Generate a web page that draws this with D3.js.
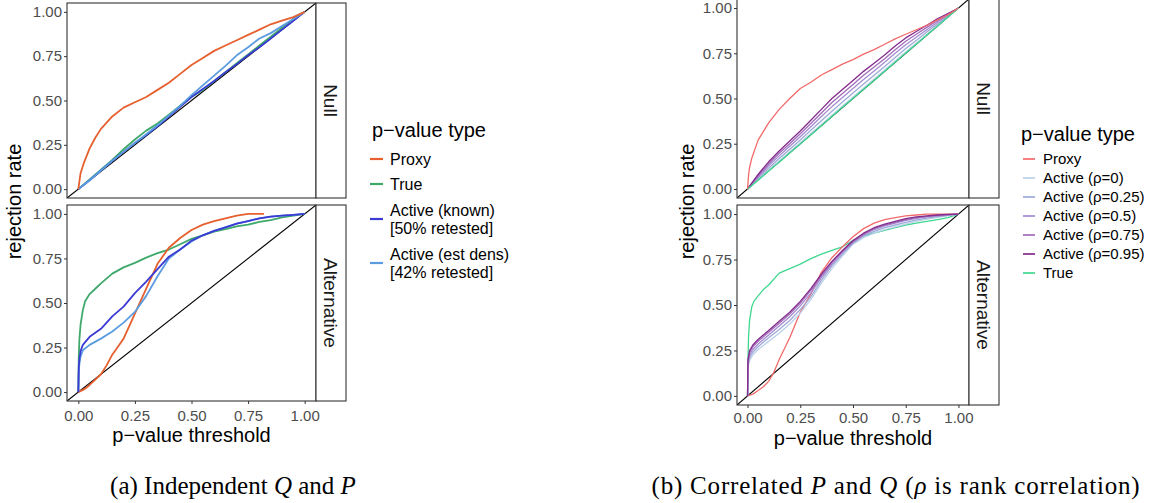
<!DOCTYPE html>
<html>
<head>
<meta charset="utf-8">
<script src="https://cdn.jsdelivr.net/npm/d3@7"></script>
<style>
  body { margin: 0; background: #fff; }
  svg { display: block; font-family: 'Liberation Sans', Arial, sans-serif; }
  .tick-label { fill: #4d4d4d; font-size: 15px; }
  .axis-title { fill: #000; font-size: 20px; }
  .strip-text { fill: #1a1a1a; font-size: 19px; }
  .legend-title { fill: #000; font-size: 20px; }
  .legend-text { fill: #000; }
  .caption { font-family: 'Liberation Serif', 'Times New Roman', serif; font-size: 25px; fill: #000; }
</style>
</head>
<body>
<svg id="chart" width="1157" height="503"></svg>
<script>
// ---- data: (a) independent Q and P ----
const xNullA = [0, 0.01, 0.025, 0.05, 0.075, 0.1, 0.15, 0.2, 0.25, 0.3, 0.35, 0.4, 0.45, 0.5, 0.55, 0.6, 0.65, 0.7, 0.75, 0.8, 0.85, 0.9, 0.95, 1.0];
const proxyNullA = [0, 0.09, 0.15, 0.23, 0.29, 0.34, 0.41, 0.46, 0.49, 0.52, 0.56, 0.60, 0.65, 0.70, 0.74, 0.78, 0.81, 0.84, 0.87, 0.90, 0.93, 0.95, 0.97, 1.0];

const xNullA2 = [0, 0.05, 0.1, 0.15, 0.2, 0.25, 0.3, 0.35, 0.4, 0.45, 0.5, 0.55, 0.6, 0.65, 0.7, 0.75, 0.8, 0.85, 0.9, 0.95, 1.0];
const trueNullA = [0, 0.055, 0.11, 0.165, 0.225, 0.28, 0.33, 0.37, 0.42, 0.47, 0.52, 0.56, 0.61, 0.66, 0.71, 0.76, 0.81, 0.86, 0.91, 0.96, 1.0];
const knownNullA = [0, 0.05, 0.105, 0.16, 0.21, 0.26, 0.305, 0.355, 0.41, 0.465, 0.52, 0.565, 0.61, 0.66, 0.705, 0.755, 0.80, 0.85, 0.90, 0.95, 1.0];
const estNullA = [0, 0.05, 0.105, 0.16, 0.21, 0.26, 0.31, 0.36, 0.415, 0.47, 0.53, 0.585, 0.64, 0.695, 0.755, 0.80, 0.85, 0.88, 0.92, 0.96, 1.0];

const xTrueAltA = [0, 0.002, 0.005, 0.01, 0.02, 0.03, 0.05, 0.075, 0.1, 0.15, 0.2, 0.25, 0.3, 0.35, 0.4, 0.45, 0.5, 0.55, 0.6, 0.65, 0.7, 0.75, 0.8, 0.85, 0.9, 0.95, 1.0];
const trueAltA = [0, 0.20, 0.30, 0.38, 0.46, 0.51, 0.55, 0.58, 0.61, 0.665, 0.70, 0.725, 0.755, 0.78, 0.80, 0.83, 0.86, 0.88, 0.90, 0.915, 0.93, 0.94, 0.955, 0.965, 0.98, 0.99, 1.0];

const xActiveAltA = [0, 0.002, 0.005, 0.01, 0.02, 0.05, 0.1, 0.15, 0.2, 0.25, 0.3, 0.35, 0.4, 0.45, 0.5, 0.55, 0.6, 0.65, 0.7, 0.75, 0.8, 0.85, 0.9, 0.95, 1.0];
const knownAltA = [0, 0.14, 0.19, 0.23, 0.265, 0.31, 0.355, 0.425, 0.48, 0.555, 0.62, 0.69, 0.76, 0.80, 0.85, 0.88, 0.905, 0.925, 0.945, 0.96, 0.975, 0.985, 0.99, 0.995, 1.0];
const estAltA = [0, 0.12, 0.16, 0.20, 0.235, 0.265, 0.30, 0.34, 0.39, 0.45, 0.54, 0.65, 0.75, 0.80, 0.845, 0.88, 0.905, 0.925, 0.945, 0.96, 0.975, 0.985, 0.99, 0.995, 1.0];

const xProxyAltA = [0, 0.025, 0.05, 0.075, 0.1, 0.125, 0.15, 0.175, 0.2, 0.25, 0.3, 0.35, 0.4, 0.45, 0.5, 0.55, 0.6, 0.65, 0.7, 0.75, 0.82];
const proxyAltA = [0, 0.015, 0.04, 0.07, 0.10, 0.15, 0.21, 0.255, 0.30, 0.44, 0.58, 0.72, 0.81, 0.865, 0.91, 0.94, 0.96, 0.975, 0.99, 1.0, 1.0];

// ---- data: (b) correlated P and Q ----
const xProxyNullB = [0, 0.005, 0.01, 0.02, 0.05, 0.1, 0.15, 0.2, 0.25, 0.3, 0.35, 0.4, 0.45, 0.5, 0.55, 0.6, 0.65, 0.7, 0.75, 0.8, 0.85, 0.9, 0.95, 1.0];
const proxyNullB = [0, 0.08, 0.12, 0.17, 0.27, 0.365, 0.44, 0.50, 0.555, 0.59, 0.63, 0.66, 0.69, 0.715, 0.745, 0.77, 0.80, 0.83, 0.855, 0.88, 0.905, 0.935, 0.963, 1.0];

const xNullB = [0, 0.05, 0.1, 0.15, 0.2, 0.25, 0.3, 0.35, 0.4, 0.45, 0.5, 0.55, 0.6, 0.65, 0.7, 0.75, 0.8, 0.85, 0.9, 0.95, 1.0];
const rho0NullB = [0, 0.052, 0.104, 0.155, 0.205, 0.256, 0.306, 0.357, 0.408, 0.458, 0.508, 0.558, 0.608, 0.657, 0.707, 0.757, 0.806, 0.854, 0.903, 0.952, 1.0];
const rho25NullB = [0, 0.059, 0.115, 0.168, 0.22, 0.271, 0.324, 0.377, 0.43, 0.48, 0.53, 0.58, 0.629, 0.677, 0.727, 0.776, 0.821, 0.867, 0.912, 0.956, 1.0];
const rho50NullB = [0, 0.067, 0.128, 0.183, 0.236, 0.289, 0.344, 0.40, 0.455, 0.505, 0.555, 0.605, 0.652, 0.70, 0.75, 0.797, 0.839, 0.88, 0.922, 0.961, 1.0];
const rho75NullB = [0, 0.073, 0.139, 0.197, 0.25, 0.305, 0.362, 0.42, 0.478, 0.528, 0.578, 0.628, 0.674, 0.72, 0.77, 0.816, 0.855, 0.893, 0.931, 0.966, 1.0];
const rho95NullB = [0, 0.08, 0.15, 0.21, 0.265, 0.32, 0.38, 0.44, 0.50, 0.55, 0.60, 0.65, 0.695, 0.74, 0.79, 0.835, 0.87, 0.905, 0.94, 0.97, 1.0];
const trueNullB = [0, 0.048, 0.099, 0.148, 0.199, 0.248, 0.298, 0.349, 0.401, 0.451, 0.50, 0.551, 0.60, 0.651, 0.70, 0.751, 0.80, 0.851, 0.90, 0.951, 1.0];

const xProxyAltB = [0, 0.025, 0.05, 0.075, 0.1, 0.125, 0.15, 0.2, 0.25, 0.3, 0.35, 0.4, 0.45, 0.5, 0.55, 0.6, 0.65, 0.7, 0.75, 0.8, 0.85, 0.9, 0.95, 1.0];
const proxyAltB = [0, 0.01, 0.03, 0.05, 0.08, 0.13, 0.20, 0.32, 0.46, 0.56, 0.68, 0.76, 0.82, 0.875, 0.92, 0.95, 0.97, 0.98, 0.99, 0.995, 1.0, 1.0, 1.0, 1.0];

const xActiveAltB = [0, 0.002, 0.01, 0.025, 0.05, 0.1, 0.15, 0.2, 0.25, 0.3, 0.35, 0.4, 0.45, 0.5, 0.55, 0.6, 0.65, 0.7, 0.75, 0.8, 0.85, 0.9, 0.95, 1.0];
const rho0AltB = [0, 0.16, 0.195, 0.225, 0.255, 0.30, 0.345, 0.395, 0.455, 0.53, 0.62, 0.70, 0.77, 0.835, 0.87, 0.895, 0.915, 0.93, 0.945, 0.96, 0.972, 0.982, 0.991, 1.0];
const rho25AltB = [0, 0.17, 0.21, 0.24, 0.27, 0.32, 0.365, 0.415, 0.475, 0.545, 0.635, 0.715, 0.78, 0.84, 0.88, 0.905, 0.925, 0.94, 0.955, 0.968, 0.978, 0.986, 0.993, 1.0];
const rho50AltB = [0, 0.18, 0.225, 0.255, 0.285, 0.335, 0.385, 0.435, 0.495, 0.565, 0.65, 0.725, 0.79, 0.845, 0.885, 0.915, 0.935, 0.95, 0.965, 0.977, 0.985, 0.99, 0.995, 1.0];
const rho75AltB = [0, 0.19, 0.24, 0.27, 0.30, 0.35, 0.40, 0.45, 0.51, 0.58, 0.66, 0.735, 0.795, 0.85, 0.89, 0.92, 0.94, 0.955, 0.97, 0.98, 0.988, 0.993, 0.997, 1.0];
const rho95AltB = [0, 0.20, 0.25, 0.28, 0.31, 0.36, 0.41, 0.46, 0.52, 0.59, 0.67, 0.74, 0.80, 0.855, 0.895, 0.925, 0.945, 0.96, 0.975, 0.985, 0.99, 0.995, 0.998, 1.0];

const xTrueAltB = [0, 0.002, 0.005, 0.01, 0.02, 0.03, 0.05, 0.075, 0.1, 0.15, 0.2, 0.25, 0.3, 0.35, 0.4, 0.45, 0.5, 0.55, 0.6, 0.65, 0.7, 0.75, 0.8, 0.85, 0.9, 0.95, 1.0];
const trueAltB = [0, 0.20, 0.33, 0.42, 0.49, 0.52, 0.55, 0.585, 0.61, 0.675, 0.70, 0.725, 0.755, 0.78, 0.80, 0.82, 0.855, 0.88, 0.895, 0.91, 0.925, 0.94, 0.95, 0.96, 0.97, 0.98, 1.0];

const tickValues = [0, 0.25, 0.5, 0.75, 1];
const tickLabels = ['0.00', '0.25', '0.50', '0.75', '1.00'];
const panelNames = ['Null', 'Alternative'];

const zip = (xs, ys) => xs.map((x, i) => [x, ys[i]]);

// figure configs (series listed in draw order)
const figA = {
  id: 'a',
  x: [67, 316], strip: 30,
  panels: [[198, 3], [401, 205]],
  yTitleX: 14, xLabelY: 421, xTitleY: 442,
  width: 1.8,
  series: [
    [
      { color: '#3fa96b', pts: zip(xNullA2, trueNullA) },
      { color: '#3b3bd4', pts: zip(xNullA2, knownNullA) },
      { color: '#5b9ce0', pts: zip(xNullA2, estNullA) },
      { color: '#e5602e', pts: zip(xNullA, proxyNullA) }
    ],
    [
      { color: '#3fa96b', pts: zip(xTrueAltA, trueAltA) },
      { color: '#e5602e', pts: zip(xProxyAltA, proxyAltA) },
      { color: '#5b9ce0', pts: zip(xActiveAltA, estAltA) },
      { color: '#3b3bd4', pts: zip(xActiveAltA, knownAltA) }
    ]
  ],
  legend: {
    x: 372, titleY: 137, keyX: [370, 383], textX: 390, fontSize: 16, lineGap: 18,
    items: [
      { lines: ['Proxy'], y: 159, color: '#e5602e' },
      { lines: ['True'], y: 184, color: '#3fa96b' },
      { lines: ['Active (known)', '[50% retested]'], y: 219, color: '#3b3bd4' },
      { lines: ['Active (est dens)', '[42% retested]'], y: 263, color: '#5b9ce0' }
    ]
  },
  caption: { x: 233, y: 494, spacing: 0 }
};

const colsB = {
  proxy: '#f26a6a', r0: '#b9d1ea', r25: '#9eaad6', r50: '#a58ad0',
  r75: '#a06bb8', r95: '#842a8c', tru: '#3fd88f'
};

const figB = {
  id: 'b',
  x: [737, 969], strip: 30,
  panels: [[198, -1], [405, 205]],
  yTitleX: 687, xLabelY: 423, xTitleY: 445,
  width: 1.3,
  series: [
    [
      { color: colsB.r0, pts: zip(xNullB, rho0NullB) },
      { color: colsB.r25, pts: zip(xNullB, rho25NullB) },
      { color: colsB.r50, pts: zip(xNullB, rho50NullB) },
      { color: colsB.r75, pts: zip(xNullB, rho75NullB) },
      { color: colsB.r95, pts: zip(xNullB, rho95NullB) },
      { color: colsB.tru, pts: zip(xNullB, trueNullB) },
      { color: colsB.proxy, pts: zip(xProxyNullB, proxyNullB) }
    ],
    [
      { color: colsB.tru, pts: zip(xTrueAltB, trueAltB) },
      { color: colsB.proxy, pts: zip(xProxyAltB, proxyAltB) },
      { color: colsB.r0, pts: zip(xActiveAltB, rho0AltB) },
      { color: colsB.r25, pts: zip(xActiveAltB, rho25AltB) },
      { color: colsB.r50, pts: zip(xActiveAltB, rho50AltB) },
      { color: colsB.r75, pts: zip(xActiveAltB, rho75AltB) },
      { color: colsB.r95, pts: zip(xActiveAltB, rho95AltB) }
    ]
  ],
  legend: {
    x: 1021, titleY: 141, keyX: [1023, 1035], textX: 1043, fontSize: 15, lineGap: 18,
    items: [
      { lines: ['Proxy'], y: 159, color: colsB.proxy },
      { lines: ['Active (ρ=0)'], y: 178, color: colsB.r0 },
      { lines: ['Active (ρ=0.25)'], y: 197, color: colsB.r25 },
      { lines: ['Active (ρ=0.5)'], y: 216, color: colsB.r50 },
      { lines: ['Active (ρ=0.75)'], y: 235, color: colsB.r75 },
      { lines: ['Active (ρ=0.95)'], y: 254, color: colsB.r95 },
      { lines: ['True'], y: 273, color: colsB.tru }
    ]
  },
  caption: { x: 896, y: 494, spacing: 0.8 }
};

const svg = d3.select('#chart');

function drawFigure(cfg) {
  const g = svg.append('g').attr('class', 'fig-' + cfg.id);
  const x = d3.scaleLinear().domain([-0.05, 1.05]).range(cfg.x);
  const x0 = cfg.x[0], x1 = cfg.x[1];

  cfg.panels.forEach((yr, pi) => {
    const y = d3.scaleLinear().domain([-0.05, 1.05]).range(yr);
    const top = Math.min(yr[0], yr[1]), bot = Math.max(yr[0], yr[1]);
    const clipId = `clip-${cfg.id}-${pi}`;
    g.append('clipPath').attr('id', clipId)
      .append('rect').attr('x', x0).attr('y', top).attr('width', x1 - x0).attr('height', bot - top);

    const pg = g.append('g').attr('clip-path', `url(#${clipId})`);
    // reference line y = x
    pg.append('line')
      .attr('x1', x(-0.05)).attr('y1', y(-0.05))
      .attr('x2', x(1.05)).attr('y2', y(1.05))
      .attr('stroke', '#000').attr('stroke-width', 1.1);

    const line = d3.line().x(d => x(d[0])).y(d => y(d[1]));
    cfg.series[pi].forEach(s => {
      pg.append('path')
        .attr('d', line(s.pts))
        .attr('fill', 'none')
        .attr('stroke', s.color)
        .attr('stroke-width', cfg.width)
        .attr('stroke-linejoin', 'round');
    });

    // panel border
    g.append('rect')
      .attr('x', x0).attr('y', top).attr('width', x1 - x0).attr('height', bot - top)
      .attr('fill', 'none').attr('stroke', '#333').attr('stroke-width', 1.1);
    // strip
    g.append('rect')
      .attr('x', x1).attr('y', top).attr('width', cfg.strip).attr('height', bot - top)
      .attr('fill', '#fff').attr('stroke', '#333').attr('stroke-width', 1.1);
    const cy = (top + bot) / 2;
    g.append('text').attr('class', 'strip-text')
      .attr('transform', `translate(${x1 + cfg.strip / 2},${cy}) rotate(90)`)
      .attr('text-anchor', 'middle').attr('dy', '0.35em')
      .text(panelNames[pi]);

    // y axis
    const yAxis = g.append('g').attr('transform', `translate(${x0},0)`)
      .call(d3.axisLeft(y).tickValues(tickValues).tickFormat((d, i) => tickLabels[i]).tickSize(3).tickPadding(2));
    yAxis.select('.domain').remove();
    yAxis.selectAll('line').attr('stroke', '#333');
    yAxis.selectAll('text').attr('class', 'tick-label').attr('fill', null);
  });

  // x axis below bottom panel
  const bottomY = Math.max(...cfg.panels[1]);
  const xAxis = g.append('g').attr('transform', `translate(0,${bottomY})`)
    .call(d3.axisBottom(x).tickValues(tickValues).tickFormat((d, i) => tickLabels[i]).tickSize(3).tickPadding(2));
  xAxis.select('.domain').remove();
  xAxis.selectAll('line').attr('stroke', '#333');
  xAxis.selectAll('text').attr('class', 'tick-label').attr('fill', null).attr('dy', null)
    .attr('y', cfg.xLabelY - bottomY);
  // let the css classes control axis fonts
  g.selectAll('g').filter(function () { return this.hasAttribute('font-size'); })
    .attr('font-size', null).attr('font-family', null);

  g.append('text').attr('class', 'axis-title')
    .attr('x', (x0 + x1) / 2).attr('y', cfg.xTitleY)
    .attr('text-anchor', 'middle').text('p\u2212value threshold');

  g.append('text').attr('class', 'axis-title')
    .attr('transform', `translate(${cfg.yTitleX},${(cfg.panels[0][0] + cfg.panels[1][1]) / 2}) rotate(-90)`)
    .attr('text-anchor', 'middle').attr('dy', '0.35em')
    .text('rejection rate');

  // legend
  const lg = cfg.legend;
  g.append('text').attr('class', 'legend-title')
    .attr('x', lg.x).attr('y', lg.titleY).text('p\u2212value type');
  lg.items.forEach(it => {
    g.append('line')
      .attr('x1', lg.keyX[0]).attr('x2', lg.keyX[1])
      .attr('y1', it.y).attr('y2', it.y)
      .attr('stroke', it.color).attr('stroke-width', cfg.width + 0.4);
    const n = it.lines.length;
    it.lines.forEach((t, k) => {
      g.append('text').attr('class', 'legend-text')
        .attr('x', lg.textX)
        .attr('y', it.y + (k - (n - 1) / 2) * lg.lineGap)
        .attr('dy', '0.35em')
        .style('font-size', lg.fontSize + 'px')
        .text(t);
    });
  });
}

drawFigure(figA);
drawFigure(figB);

// captions
const capA = svg.append('text').attr('class', 'caption')
  .attr('x', figA.caption.x).attr('y', figA.caption.y).attr('text-anchor', 'middle');
capA.append('tspan').text('(a) Independent ');
capA.append('tspan').attr('font-style', 'italic').text('Q');
capA.append('tspan').text(' and ');
capA.append('tspan').attr('font-style', 'italic').text('P');

const capB = svg.append('text').attr('class', 'caption')
  .attr('x', figB.caption.x).attr('y', figB.caption.y).attr('text-anchor', 'middle')
  .style('letter-spacing', figB.caption.spacing + 'px');
capB.append('tspan').text('(b) Correlated ');
capB.append('tspan').attr('font-style', 'italic').text('P');
capB.append('tspan').text(' and ');
capB.append('tspan').attr('font-style', 'italic').text('Q');
capB.append('tspan').text(' (');
capB.append('tspan').attr('font-style', 'italic').text('ρ');
capB.append('tspan').text(' is rank correlation)');
</script>
</body>
</html>
